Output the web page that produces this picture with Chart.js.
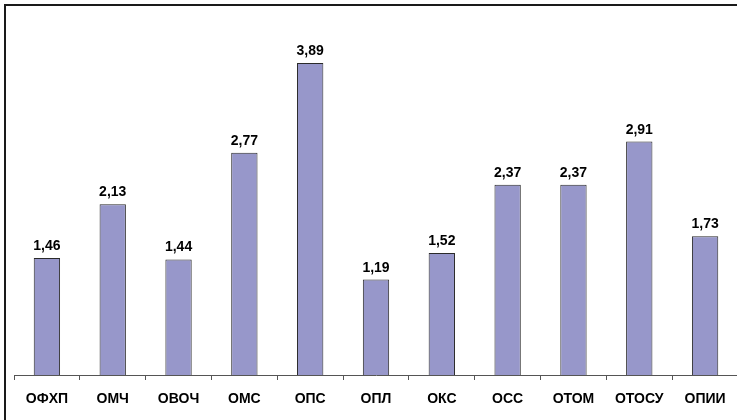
<!DOCTYPE html>
<html>
<head>
<meta charset="utf-8">
<script src="https://cdn.jsdelivr.net/npm/chart.js@4"></script>
<style>
  html, body { margin: 0; padding: 0; overflow: hidden; background: #fff; }
  #frame { position: absolute; left: 4px; top: 4px; width: 800px; height: 500px; border-left: 2px solid #1a1a1a; border-top: 2px solid #1a1a1a; }
  #wrap { position: absolute; left: 0; top: 0; width: 760px; height: 420px; }
</style>
</head>
<body>
<div id="frame"></div>
<div id="wrap"><canvas id="c"></canvas></div>
<script>
const categories = ['ОФХП', 'ОМЧ', 'ОВОЧ', 'ОМС', 'ОПС', 'ОПЛ', 'ОКС', 'ОСС', 'ОТОМ', 'ОТОСУ', 'ОПИИ'];
const values = [1.46, 2.13, 1.44, 2.77, 3.89, 1.19, 1.52, 2.37, 2.37, 2.91, 1.73];

const FONT = '"Liberation Sans", Arial, sans-serif';

const valueLabels = {
  id: 'valueLabels',
  afterDatasetsDraw(chart) {
    const ctx = chart.ctx;
    const meta = chart.getDatasetMeta(0);
    ctx.save();
    ctx.font = 'bold 14px ' + FONT;
    ctx.fillStyle = '#000';
    ctx.textAlign = 'center';
    ctx.textBaseline = 'alphabetic';
    meta.data.forEach((bar, i) => {
      const txt = values[i].toFixed(2).replace('.', ',');
      ctx.fillText(txt, bar.x, bar.y - 8);
    });
    ctx.restore();
  }
};

new Chart(document.getElementById('c'), {
  type: 'bar',
  data: {
    labels: categories,
    datasets: [{
      data: values,
      backgroundColor: '#9797CA',
      borderColor: '#2a2a2a',
      borderWidth: 1,
      borderSkipped: 'bottom',
      barPercentage: 0.4,
      categoryPercentage: 1.0
    }]
  },
  options: {
    responsive: true,
    maintainAspectRatio: false,
    animation: false,
    events: [],
    layout: { padding: { left: 14, right: 22, top: 14, bottom: 0 } },
    plugins: { legend: { display: false }, tooltip: { enabled: false } },
    scales: {
      y: { display: false, min: 0, max: 4.5 },
      x: {
        offset: true,
        grid: { display: true, offset: true, drawOnChartArea: false, drawTicks: true, tickLength: 5, color: '#555', lineWidth: 1 },
        border: { display: true, color: '#555', width: 1 },
        ticks: { color: '#000', font: { family: FONT, size: 14, weight: 'bold' }, padding: 11, maxRotation: 0, autoSkip: false },
        afterFit(scale) { scale.height = 45; }
      }
    }
  },
  plugins: [valueLabels]
});
</script>
</body>
</html>
